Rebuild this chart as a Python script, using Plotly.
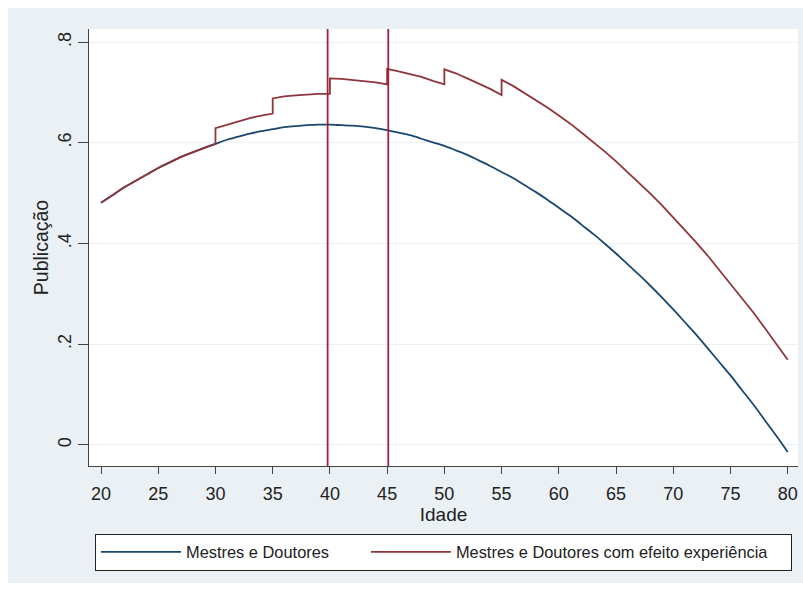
import plotly.graph_objects as go

# ---- data ----
idade = list(range(20, 81))
mestres_doutores = [
    0.481, 0.496, 0.511, 0.524, 0.537, 0.550, 0.561, 0.572, 0.581, 0.590,
    0.598, 0.606, 0.612, 0.618, 0.623, 0.627, 0.631, 0.633, 0.635, 0.636,
    0.636, 0.635, 0.634, 0.632, 0.629, 0.625, 0.620, 0.615, 0.608, 0.601,
    0.594, 0.585, 0.576, 0.565, 0.554, 0.542, 0.530, 0.516, 0.502, 0.487,
    0.471, 0.455, 0.437, 0.419, 0.400, 0.380, 0.359, 0.338, 0.316, 0.293,
    0.269, 0.244, 0.219, 0.192, 0.165, 0.138, 0.109, 0.080, 0.049, 0.018,
    -0.014,
]

idade_exp = [
    20, 21, 22, 23, 24, 25, 26, 27, 28, 29, 30,
    30, 31, 32, 33, 34, 35,
    35, 36, 37, 38, 39, 40,
    40, 41, 42, 43, 44, 45,
    45, 46, 47, 48, 49, 50,
    50, 51, 52, 53, 54, 55,
    55, 56, 57, 58, 59, 60, 61, 62, 63, 64, 65, 66, 67, 68, 69, 70,
    71, 72, 73, 74, 75, 76, 77, 78, 79, 80,
]
com_experiencia = [
    0.481, 0.496, 0.511, 0.524, 0.537, 0.550, 0.561, 0.572, 0.581, 0.590, 0.598,
    0.629, 0.636, 0.643, 0.649, 0.654, 0.658,
    0.688, 0.692, 0.694, 0.696, 0.697, 0.697,
    0.728, 0.727, 0.725, 0.723, 0.720, 0.716,
    0.747, 0.742, 0.737, 0.731, 0.723, 0.716,
    0.746, 0.738, 0.728, 0.718, 0.707, 0.695,
    0.725, 0.713, 0.699, 0.685, 0.670, 0.654, 0.638, 0.620, 0.602, 0.583,
    0.563, 0.542, 0.521, 0.499, 0.476, 0.452,
    0.427, 0.402, 0.376, 0.348, 0.321, 0.292, 0.263, 0.232, 0.201, 0.169,
]

linhas_verticais = [39.8, 45.1]
x_ticks = list(range(20, 85, 5))
y_ticks = [0, 0.2, 0.4, 0.6, 0.8]
y_ticktext = ["0", ".2", ".4", ".6", ".8"]

nomes = ["Mestres e Doutores", "Mestres e Doutores com efeito experiência"]

NAVY = "#1a476f"
MAROON = "#90353b"
VLINE = "#a3213c"
BG = "#eaf0f3"
TXT = "#222222"
AX = "#444444"
FONT = "Liberation Sans, Arial, sans-serif"
NB = "\u00a0"

fig = go.Figure()
fig.add_trace(go.Scatter(
    x=idade, y=mestres_doutores, mode="lines",
    name=nomes[0] + NB * 7,
    line=dict(color=NAVY, width=1.8, shape="spline", smoothing=0.8),
))
fig.add_trace(go.Scatter(
    x=idade_exp, y=com_experiencia, mode="lines",
    name=nomes[1] + NB * 4,
    line=dict(color=MAROON, width=1.8),
))

# background panels (outer bluish-gray frame, white plot region)
fig.add_shape(type="rect", xref="paper", yref="paper",
              x0=-0.1142, x1=1.0071, y0=-0.2677, y1=1.0481,
              fillcolor=BG, line=dict(width=0), layer="below")
fig.add_shape(type="rect", xref="paper", yref="paper",
              x0=0, x1=1, y0=0, y1=1,
              fillcolor="white", line=dict(width=0), layer="below")

for xv in linhas_verticais:
    fig.add_vline(x=xv, line=dict(color=VLINE, width=1.8))

fig.update_layout(
    width=803, height=591,
    margin=dict(l=89, r=5, t=29, b=125),
    paper_bgcolor="white",
    plot_bgcolor="rgba(0,0,0,0)",
    font=dict(family=FONT, size=18, color=TXT),
    showlegend=True,
    legend=dict(
        orientation="h",
        x=0.5, xanchor="center",
        y=-0.155, yanchor="top",
        bgcolor="white",
        bordercolor=TXT, borderwidth=1,
        font=dict(family=FONT, size=16.4, color=TXT),
        itemwidth=80,
    ),
)

fig.update_xaxes(
    range=[18.95, 80.9],
    tickvals=x_ticks,
    ticks="outside", ticklen=7, tickwidth=1, tickcolor=AX,
    showline=True, linecolor=AX, linewidth=1,
    showgrid=False, zeroline=False,
    tickfont=dict(size=18),
    ticklabelstandoff=4,
    title=dict(text="Idade", font=dict(size=19), standoff=2),
)
fig.update_yaxes(
    range=[-0.042, 0.826],
    tickvals=y_ticks, ticktext=y_ticktext,
    tickangle=-90,
    ticks="outside", ticklen=10, tickwidth=1, tickcolor=AX,
    showline=True, linecolor=AX, linewidth=1,
    showgrid=True, gridcolor=BG, gridwidth=1,
    zeroline=False,
    tickfont=dict(size=18),
    ticklabelstandoff=0,
    title=dict(text="Publicação", font=dict(size=19.5), standoff=0),
)

fig.write_html("out.html")
